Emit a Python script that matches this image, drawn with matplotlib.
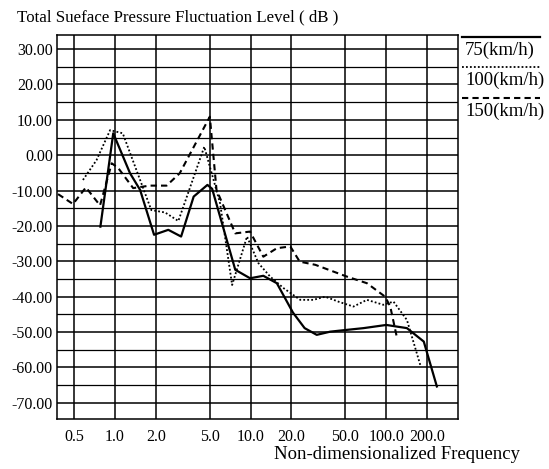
import matplotlib
matplotlib.use('Agg')
import matplotlib.pyplot as plt
from matplotlib.ticker import FixedLocator, NullLocator

plt.rcParams['font.family'] = ['Liberation Serif', 'DejaVu Serif']

# 75 km/h
freq_75 = [0.78, 0.97, 1.29, 1.53, 1.94, 2.47, 3.07, 3.8, 4.8, 5.2, 7.7, 9.9,
           12.4, 15.6, 20.5, 25.0, 30.7, 38.6, 51.0, 68.0, 100.0, 142.0,
           189.0, 236.0]
level_75 = [-20.2, 6.2, -5.1, -9.8, -22.5, -21.1, -23.0, -11.7, -8.4, -9.5,
            -32.4, -34.8, -34.1, -36.2, -44.5, -48.9, -50.8, -49.9, -49.4,
            -48.9, -48.0, -48.9, -52.7, -65.4]

# 100 km/h
freq_100 = [0.58, 0.73, 0.92, 1.14, 1.85, 2.34, 2.93, 4.55, 5.95, 7.3, 9.4,
            11.4, 13.9, 17.5, 23.2, 29.0, 35.4, 45.0, 57.3, 72.0, 95.0, 113.0,
            142.0, 178.0]
level_100 = [-7.0, -1.4, 7.1, 6.2, -15.5, -16.2, -18.6, 2.4, -13.6, -36.7,
             -23.0, -30.5, -34.3, -37.6, -40.9, -40.9, -40.0, -41.5, -42.8,
             -40.9, -42.3, -41.4, -46.6, -59.3]

# 150 km/h
freq_150 = [0.38, 0.49, 0.61, 0.775, 0.945, 1.05, 1.36, 1.8, 2.4, 3.0, 5.0,
            5.6, 7.7, 9.9, 12.4, 15.6, 19.6, 23.0, 30.0, 51.0, 72.0, 98.0,
            107.0, 120.0]
level_150 = [-11.0, -13.8, -9.1, -14.2, -2.3, -3.5, -9.3, -8.6, -8.6, -5.1,
             10.9, -9.8, -22.1, -21.6, -28.7, -26.3, -25.8, -30.1, -31.0,
             -34.3, -36.2, -40.0, -42.8, -51.7]

series = [
    ('75(km/h)', freq_75, level_75, '-', 1.6),
    ('100(km/h)', freq_100, level_100, (0, (1, 1.2)), 1.3),
    ('150(km/h)', freq_150, level_150, (0, (3, 2)), 1.5),
]

x_ticks = [0.5, 1.0, 2.0, 5.0, 10.0, 20.0, 50.0, 100.0, 200.0]
x_tick_labels = ['0.5', '1.0', '2.0', '5.0', '10.0', '20.0', '50.0',
                 '100.0', '200.0']
y_ticks = [30, 20, 10, 0, -10, -20, -30, -40, -50, -60, -70]

fig = plt.figure(figsize=(5.49, 4.69), dpi=100)
ax = fig.add_axes([0.1038, 0.1066, 0.7305, 0.8188])

for name, f, lv, ls, lw in series:
    ax.plot(f, lv, color='black', linestyle=ls, linewidth=lw)

ax.set_xscale('log')
ax.set_xlim(10 ** -0.428, 10 ** 2.529)
ax.set_ylim(-74.6, 34.0)

ax.xaxis.set_major_locator(FixedLocator(x_ticks))
ax.xaxis.set_minor_locator(NullLocator())
ax.set_xticklabels(x_tick_labels)
ax.yaxis.set_major_locator(FixedLocator(y_ticks))
ax.yaxis.set_minor_locator(FixedLocator([v - 5 for v in y_ticks] + [35]))
ax.set_yticklabels(['%.2f' % v for v in y_ticks])
ax.tick_params(axis='both', which='both', length=0, labelsize=11.5, pad=3)
ax.tick_params(axis='x', pad=7)

ax.grid(True, which='major', color='black', linewidth=1.1)
ax.grid(True, which='minor', axis='y', color='black', linewidth=0.9)
for sp in ax.spines.values():
    sp.set_linewidth(1.1)

fig.text(0.031, 0.962, 'Total Sueface Pressure Fluctuation Level ( dB )',
         fontsize=12.2, ha='left', va='center')
fig.text(0.948, 0.030, 'Non-dimensionalized Frequency',
         fontsize=13.5, ha='right', va='center')

# key drawn to the right of the plot: line sample above each label
line_y = [0.995, 0.917, 0.836]
text_y = [0.961, 0.883, 0.800]
for (name, f, lv, ls, lw), ly, ty in zip(series, line_y, text_y):
    ax.plot([1.01, 1.204], [ly, ly], transform=ax.transAxes, color='black',
            linestyle=ls, linewidth=lw, clip_on=False)
    ax.text(1.018, ty, name, transform=ax.transAxes, fontsize=13.5,
            ha='left', va='center')

fig.savefig('out.png', dpi=100)
